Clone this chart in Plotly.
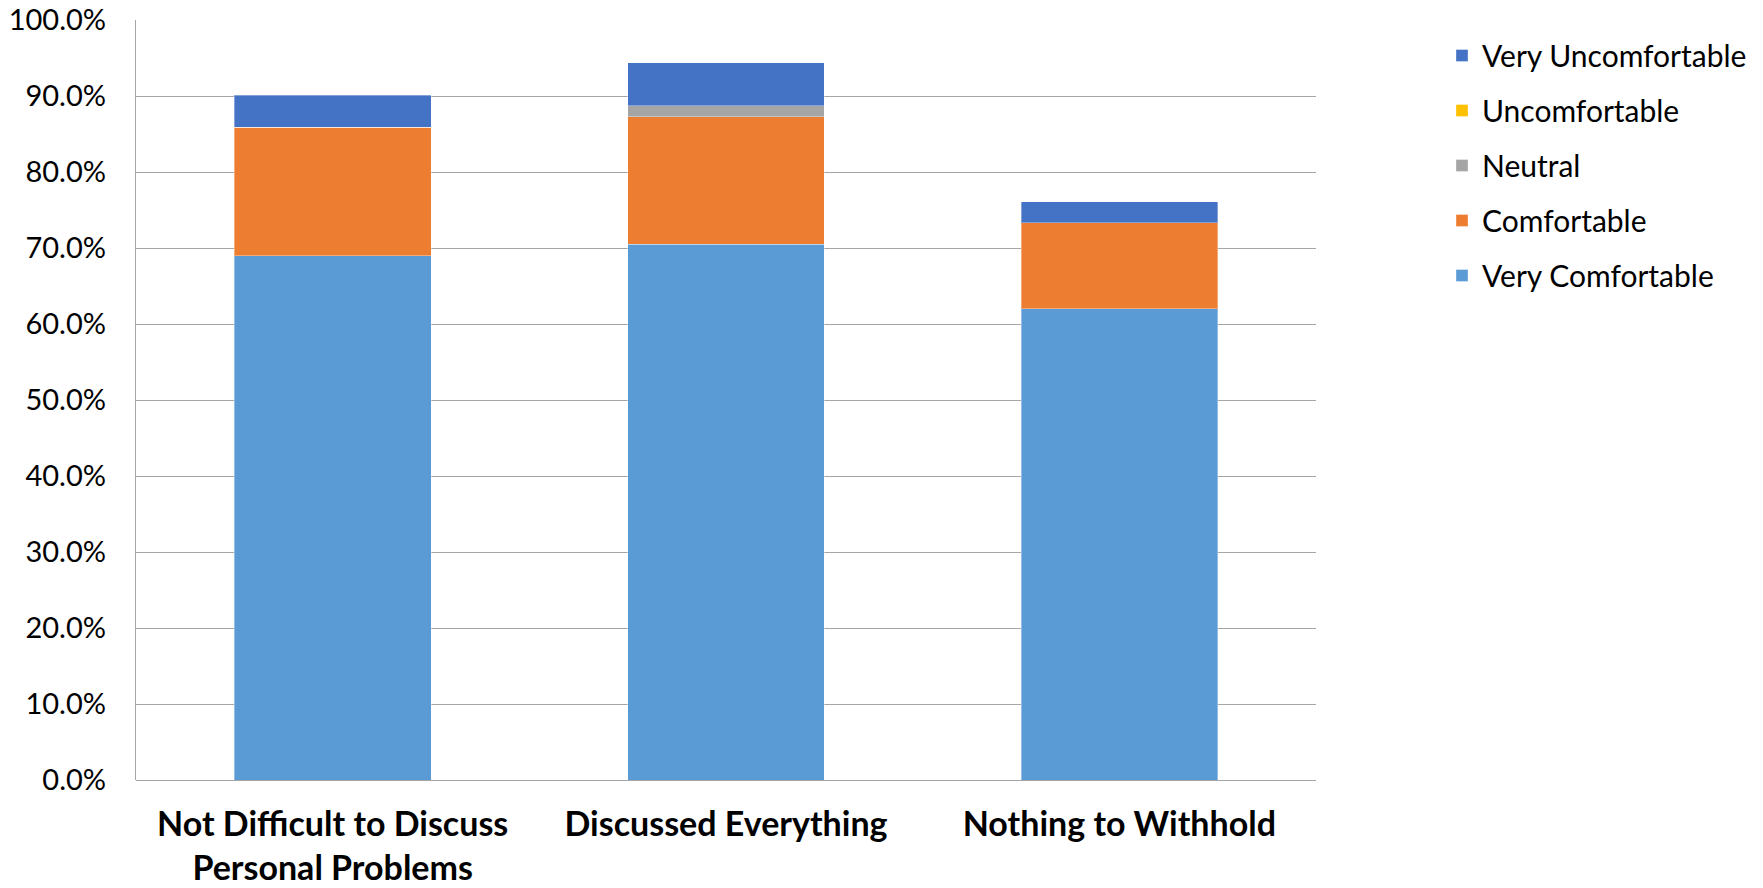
import plotly.graph_objects as go

categories = ["Not Difficult to Discuss<br>Personal Problems", "Discussed Everything", "Nothing to Withhold"]
very_comfortable = [69.0, 70.5, 62.0]
comfortable = [16.9, 16.8, 11.3]
neutral = [0.0, 1.4, 0.0]
uncomfortable = [0.0, 0.0, 0.0]
very_uncomfortable = [4.2, 5.7, 2.8]

series = [
    ("Very Comfortable", very_comfortable, "#5B9BD5", 5),
    ("Comfortable", comfortable, "#ED7D31", 4),
    ("Neutral", neutral, "#A5A5A5", 3),
    ("Uncomfortable", uncomfortable, "#FFC000", 2),
    ("Very Uncomfortable", very_uncomfortable, "#4472C4", 1),
]

fig = go.Figure()
for name, vals, color, rank in series:
    fig.add_trace(go.Bar(
        x=categories, y=vals, name=name, legendgroup=name, legendrank=rank,
        marker=dict(color=color, line=dict(color="rgba(255,255,255,0.35)", width=1)),
    ))

W, H = 1763, 888
left, right, top, bottom = 136, 1316, 19.5, 780.5

fig.update_layout(
    width=W, height=H,
    barmode="stack", bargap=0.5,
    plot_bgcolor="white", paper_bgcolor="white",
    margin=dict(l=left, r=W - right, t=top, b=H - bottom, autoexpand=False),
    font=dict(family="Lato, Carlito, sans-serif", size=29, color="#000000"),
    legend=dict(
        x=(1442 - left) / (right - left), y=(bottom - 29) / (bottom - top),
        xanchor="left", yanchor="top",
        traceorder="grouped", tracegroupgap=13,
        font=dict(size=30), bgcolor="rgba(0,0,0,0)",
    ),
    xaxis=dict(
        showgrid=False, showline=False, ticks="",
        tickfont=dict(size=34, family="Lato, sans-serif", weight="bold"),
        ticklabelstandoff=21,
    ),
    yaxis=dict(
        range=[0, 100], dtick=10, tickformat=".1f", ticksuffix="%",
        showgrid=True, gridcolor="#A6A6A6", gridwidth=1.3,
        showline=True, linecolor="#A6A6A6", linewidth=1.3,
        zeroline=True, zerolinecolor="#A6A6A6", zerolinewidth=1.3,
        tickfont=dict(size=29), ticks="", ticklabelstandoff=23,
    ),
)

fig.write_html("out.html")
